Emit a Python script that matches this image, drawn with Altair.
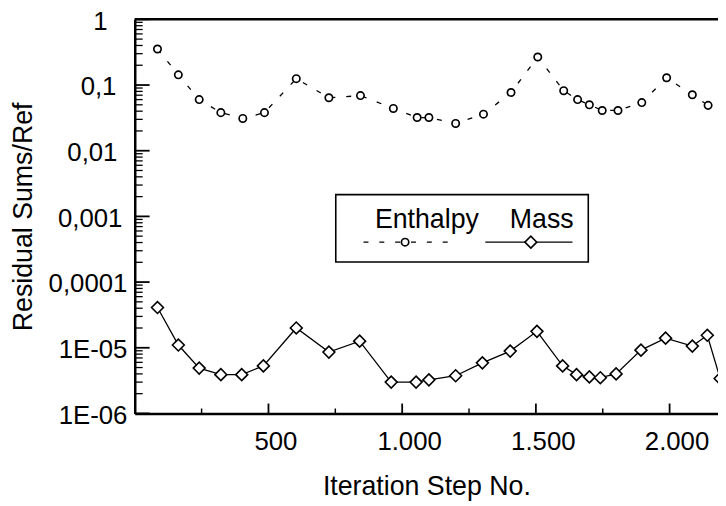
import altair as alt
import pandas as pd

# ---- data ----
enthalpy_x = [85, 163, 241, 322, 404, 485, 604, 726, 844, 967, 1056, 1100, 1200,
              1304, 1407, 1507, 1604, 1656, 1700, 1748, 1807, 1896, 1989, 2085, 2144]
enthalpy_y = [0.353, 0.143, 0.060, 0.038, 0.031, 0.038, 0.125, 0.064, 0.069, 0.044,
              0.032, 0.032, 0.026, 0.036, 0.077, 0.267, 0.082, 0.060, 0.050, 0.041,
              0.041, 0.054, 0.129, 0.071, 0.049]
mass_x = [85, 163, 241, 322, 400, 481, 604, 726, 841, 959, 1052, 1100, 1200, 1300,
          1404, 1504, 1600, 1652, 1700, 1741, 1800, 1893, 1985, 2085, 2141, 2189]
mass_y = [4.1e-5, 1.1e-5, 4.9e-6, 3.9e-6, 3.9e-6, 5.3e-6, 2.0e-5, 8.6e-6, 1.26e-5,
          3.0e-6, 3.0e-6, 3.25e-6, 3.75e-6, 5.9e-6, 8.9e-6, 1.78e-5, 5.3e-6, 3.9e-6,
          3.6e-6, 3.5e-6, 4.0e-6, 9.2e-6, 1.4e-5, 1.06e-5, 1.55e-5, 3.4e-6]

x_tick_values = [500, 1000, 1500, 2000]
x_tick_labels = ["500", "1.000", "1.500", "2.000"]
x_minor_ticks = [250, 750, 1250, 1750]
y_tick_values = [1, 0.1, 0.01, 0.001, 0.0001, 1e-5, 1e-6]
y_tick_labels = ["1", "0,1", "0,01", "0,001", "0,0001", "1E-05", "1E-06"]
y_minor_ticks = [k * 10.0 ** d for d in range(-6, 0) for k in range(2, 10)]

series_names = ["Enthalpy", "Mass"]
x_title = "Iteration Step No."
y_title = "Residual Sums/Ref"

# ---- layout / style ----
W, H = 589, 398
FONT = "Liberation Sans"
y_label_pad = [28, 19, 18, 13, 8, 8, 8]   # gap between label and axis (style)

# label expressions built from the label lists
x_expr = "''"
for v, lab in reversed(list(zip(x_tick_values, x_tick_labels))):
    x_expr = f"datum.value < {v + 1} ? '{lab}' : ({x_expr})"
y_expr = "''"
for v, lab in reversed(list(zip(y_tick_values, y_tick_labels))):
    y_expr = f"datum.value > {v * 0.5} ? '{lab}' : ({y_expr})"

y_pad_cond = {
    "condition": [{"test": f"datum.value > {v * 0.5}", "value": p}
                  for v, p in zip(y_tick_values[:4], y_label_pad[:4])],
    "value": y_label_pad[-1],
}

xscale = alt.Scale(domain=[0, 2181], nice=False, zero=False)
yscale = alt.Scale(type="log", domain=[1e-6, 1], nice=False)

xaxis = alt.Axis(values=x_tick_values, labelExpr=x_expr, ticks=False, tickSize=0,
                 grid=False, domainWidth=2.5, domainColor="black",
                 labelFont=FONT, labelFontSize=26, labelColor="black",
                 labelPadding=15, labelOffset=7, labelFlush=False,
                 title=x_title, titleFont=FONT, titleFontSize=27,
                 titleFontWeight="normal", titleColor="black",
                 titleX=W / 2, titleY=82, titleBaseline="alphabetic", titleAlign="center")
yaxis = alt.Axis(values=y_tick_values, labelExpr=y_expr, ticks=False, tickSize=0,
                 grid=False, domainWidth=2.5, domainColor="black",
                 labelFont=FONT, labelFontSize=26, labelColor="black",
                 labelPadding=y_pad_cond, labelOffset=2,
                 labelFlush=False, labelAlign="right", labelBaseline="middle",
                 title=y_title, titleFont=FONT, titleFontSize=27,
                 titleFontWeight="normal", titleColor="black", titleAngle=-90,
                 titleX=-104, titleY=199, titleBaseline="alphabetic", titleAlign="center")

X = alt.X("x:Q", scale=xscale, axis=xaxis)
Y = alt.Y("y:Q", scale=yscale, axis=yaxis)
Xp = alt.X("x:Q", scale=xscale)
Yp = alt.Y("y:Q", scale=yscale)

ent_df = pd.DataFrame({"x": enthalpy_x, "y": enthalpy_y})
mass_df = pd.DataFrame({"x": mass_x, "y": mass_y})

ent_line = alt.Chart(ent_df).mark_line(color="black", strokeWidth=1.3, strokeDash=[5, 11], clip=True).encode(x=X, y=Y)
ent_pts = alt.Chart(ent_df).mark_point(shape="circle", size=55, filled=False, color="black",
                                       strokeWidth=1.7, fill="white", fillOpacity=1, clip=True).encode(x=Xp, y=Yp)
mass_line = alt.Chart(mass_df).mark_line(color="black", strokeWidth=1.3, clip=True).encode(x=Xp, y=Yp)
mass_pts = alt.Chart(mass_df).mark_point(shape="diamond", size=144, filled=False, color="black",
                                         strokeWidth=1.6, fill="white", fillOpacity=1, clip=True).encode(x=Xp, y=Yp)

# inward ticks
tick_x_major = pd.DataFrame({"x": x_tick_values})
tick_x_minor = pd.DataFrame({"x": x_minor_ticks})
tick_y_major = pd.DataFrame({"y": y_tick_values})
tick_y_minor = pd.DataFrame({"y": y_minor_ticks})

xt_major = alt.Chart(tick_x_major).mark_rule(color="black", strokeWidth=1.8).encode(
    x=Xp, y=alt.value(H), y2=alt.value(H - 10))
xt_minor = alt.Chart(tick_x_minor).mark_rule(color="black", strokeWidth=1.5).encode(
    x=Xp, y=alt.value(H), y2=alt.value(H - 5))
yt_major = alt.Chart(tick_y_major).mark_rule(color="black", strokeWidth=1.8).encode(
    y=Yp, x=alt.value(0), x2=alt.value(15))
yt_minor = alt.Chart(tick_y_minor).mark_rule(color="black", strokeWidth=1.3).encode(
    y=Yp, x=alt.value(0), x2=alt.value(8))

one = alt.Data(values=[{"k": 0}])
top_border = alt.Chart(one).mark_rule(color="black", strokeWidth=2.5).encode(
    x=alt.value(0), x2=alt.value(W), y=alt.value(0))

# legend (drawn by hand)
leg_box = alt.Chart(one).mark_rect(fill="white", stroke="black", strokeWidth=1.6).encode(
    x=alt.value(203), x2=alt.value(458), y=alt.value(177), y2=alt.value(245))
leg_t1 = alt.Chart(one).mark_text(text=series_names[0], font=FONT, fontSize=27, color="black",
                                  align="center", baseline="alphabetic").encode(
    x=alt.value(295), y=alt.value(211))
leg_t2 = alt.Chart(one).mark_text(text=series_names[1], font=FONT, fontSize=27, color="black",
                                  align="center", baseline="alphabetic").encode(
    x=alt.value(411), y=alt.value(211))
leg_l1 = alt.Chart(one).mark_rule(color="black", strokeWidth=1.3, strokeDash=[5, 11]).encode(
    x=alt.value(231), x2=alt.value(322), y=alt.value(225))
leg_p1 = alt.Chart(one).mark_point(shape="circle", size=55, filled=False, color="black",
                                   strokeWidth=1.7, fill="white", fillOpacity=1).encode(
    x=alt.value(273), y=alt.value(225))
leg_l2 = alt.Chart(one).mark_rule(color="black", strokeWidth=1.3).encode(
    x=alt.value(354), x2=alt.value(442), y=alt.value(225))
leg_p2 = alt.Chart(one).mark_point(shape="diamond", size=144, filled=False, color="black",
                                   strokeWidth=1.6, fill="white", fillOpacity=1).encode(
    x=alt.value(400), y=alt.value(225))

chart = alt.layer(
    xt_major, xt_minor, yt_major, yt_minor, top_border,
    ent_line, mass_line, ent_pts, mass_pts,
    leg_box, leg_t1, leg_t2, leg_l1, leg_p1, leg_l2, leg_p2,
).properties(
    width=W, height=H,
    autosize=alt.AutoSizeParams(type="none"),
    padding={"left": 128, "top": 9, "right": 0, "bottom": 90},
    background="white",
).configure_view(stroke="transparent")

chart.save("out.html", embed_options={"renderer": "svg", "actions": False})
